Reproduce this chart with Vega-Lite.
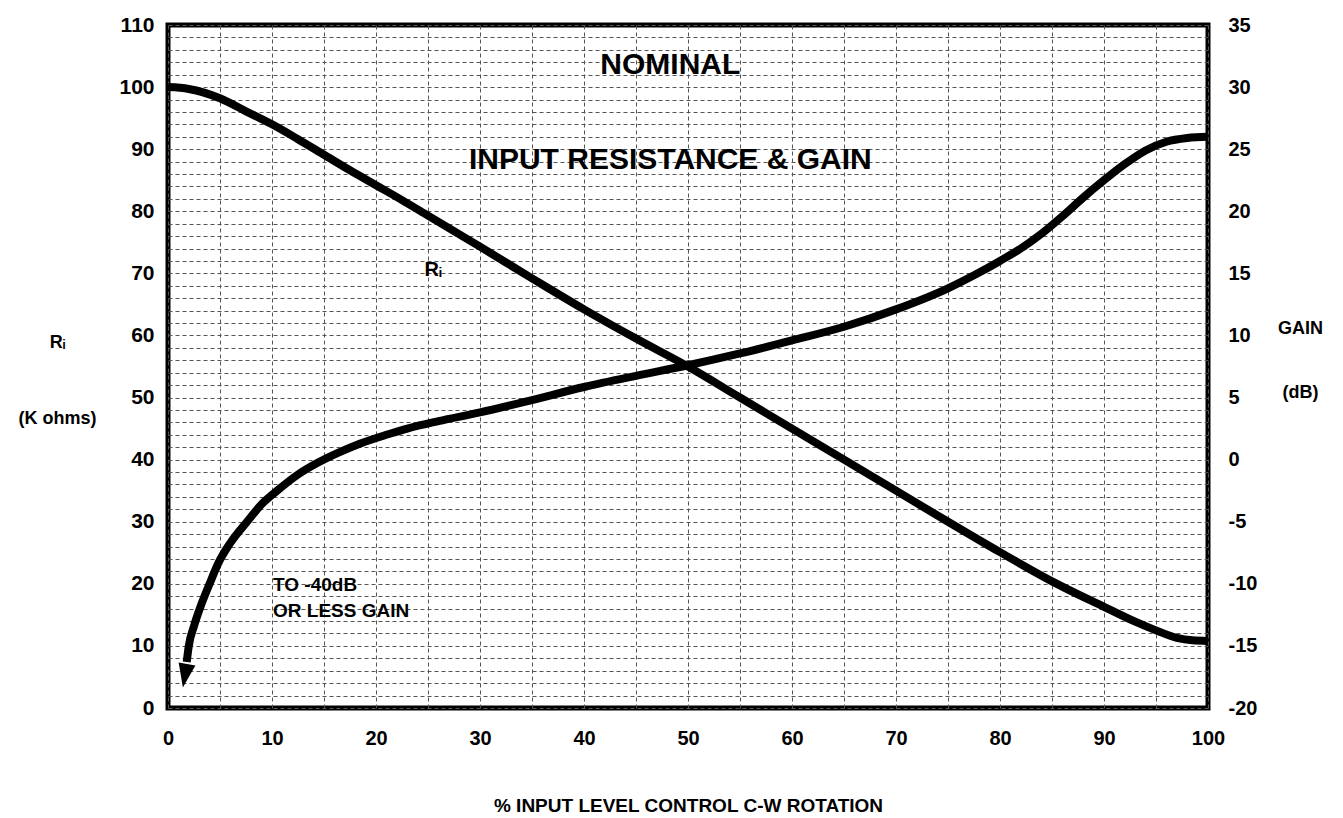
{
  "$schema": "https://vega.github.io/schema/vega-lite/v6.json",
  "width": 1040,
  "height": 683,
  "autosize": "none",
  "padding": {"left": 168, "top": 25, "right": 135, "bottom": 110},
  "background": "white",
  "config": {
    "view": {"stroke": "black", "strokeWidth": 5},
    "font": "Liberation Sans",
    "axis": {
      "labelColor": "black",
      "titleColor": "black",
      "labelFontWeight": "bold",
      "titleFontWeight": "bold",
      "labelOverlap": false,
      "labelFlush": false,
      "ticks": false,
      "domain": false,
      "tickCount": 200,
      "format": "d",
      "gridColor": "#555555",
      "gridDash": [4, 3],
      "gridWidth": 1,
      "gridOpacity": 1
    }
  },
  "resolve": {"scale": {"y": "independent"}},
  "layer": [
    {
      "layer": [
        {
          "data": {"values": [
            {"pct": 0, "ri": 100}, {"pct": 2, "ri": 99.7}, {"pct": 5, "ri": 98.2}, {"pct": 7.5, "ri": 96.1},
            {"pct": 10, "ri": 94}, {"pct": 12.5, "ri": 91.6}, {"pct": 15, "ri": 89.1}, {"pct": 17.5, "ri": 86.6},
            {"pct": 20, "ri": 84.2}, {"pct": 22.5, "ri": 81.8}, {"pct": 25, "ri": 79.3}, {"pct": 27.5, "ri": 76.8},
            {"pct": 30, "ri": 74.3}, {"pct": 35, "ri": 69.2}, {"pct": 40, "ri": 64.2}, {"pct": 45, "ri": 59.5},
            {"pct": 50, "ri": 55}, {"pct": 55, "ri": 50}, {"pct": 60, "ri": 45}, {"pct": 65, "ri": 40},
            {"pct": 70, "ri": 35}, {"pct": 75, "ri": 30}, {"pct": 80, "ri": 25.1}, {"pct": 85, "ri": 20.4},
            {"pct": 90, "ri": 16.3}, {"pct": 93, "ri": 13.9}, {"pct": 95, "ri": 12.5}, {"pct": 97, "ri": 11.3},
            {"pct": 98.5, "ri": 10.9}, {"pct": 100, "ri": 10.8}
          ]},
          "mark": {"type": "line", "stroke": "black", "strokeWidth": 8, "interpolate": "monotone"},
          "encoding": {
            "x": {
              "field": "pct", "type": "quantitative",
              "scale": {"domain": [0, 100], "nice": false},
              "axis": {
                "values": [0, 5, 10, 15, 20, 25, 30, 35, 40, 45, 50, 55, 60, 65, 70, 75, 80, 85, 90, 95, 100],
                "labelExpr": "datum.value % 10 === 0 ? datum.label : ''",
                "grid": true,
                "labelFontSize": 20,
                "labelPadding": 20,
                "title": "% INPUT LEVEL CONTROL C-W ROTATION",
                "titleFontSize": 19,
                "titleY": 97,
                "titleBaseline": "middle"
              }
            },
            "y": {
              "field": "ri", "type": "quantitative",
              "scale": {"domain": [0, 110], "nice": false},
              "axis": {
                "values": [0, 2, 4, 6, 8, 10, 12, 14, 16, 18, 20, 22, 24, 26, 28, 30, 32, 34, 36, 38, 40, 42, 44, 46, 48, 50, 52, 54, 56, 58, 60, 62, 64, 66, 68, 70, 72, 74, 76, 78, 80, 82, 84, 86, 88, 90, 92, 94, 96, 98, 100, 102, 104, 106, 108, 110],
                "labelExpr": "datum.value % 10 === 0 ? datum.label : ''",
                "grid": true,
                "labelFontSize": 21,
                "labelPadding": 14,
                "title": ["Rᵢ", "(K ohms)"],
                "titleFontSize": 18,
                "titleAngle": 0,
                "titleAlign": "center",
                "titleBaseline": "middle",
                "titleLineHeight": 76,
                "titleX": -111,
                "titleY": 317
              }
            }
          }
        },
        {
          "data": {"values": [
            {"pct": 48.3, "ri": 103.5, "label": "NOMINAL"},
            {"pct": 48.3, "ri": 88.2, "label": "INPUT RESISTANCE & GAIN"}
          ]},
          "mark": {"type": "text", "fontSize": 30, "fontWeight": "bold", "align": "center", "baseline": "middle", "color": "black"},
          "encoding": {
            "x": {"field": "pct", "type": "quantitative"},
            "y": {"field": "ri", "type": "quantitative"},
            "text": {"field": "label"}
          }
        },
        {
          "data": {"values": [
            {"pct": 25.5, "ri": 70.5, "label": "Rᵢ"}
          ]},
          "mark": {"type": "text", "fontSize": 20, "fontWeight": "bold", "align": "center", "baseline": "middle", "color": "black"},
          "encoding": {
            "x": {"field": "pct", "type": "quantitative"},
            "y": {"field": "ri", "type": "quantitative"},
            "text": {"field": "label"}
          }
        },
        {
          "data": {"values": [
            {"pct": 10.1, "ri": 19.8, "label": "TO -40dB"},
            {"pct": 10.1, "ri": 15.6, "label": "OR LESS GAIN"}
          ]},
          "mark": {"type": "text", "fontSize": 19, "fontWeight": "bold", "align": "left", "baseline": "middle", "color": "black"},
          "encoding": {
            "x": {"field": "pct", "type": "quantitative"},
            "y": {"field": "ri", "type": "quantitative"},
            "text": {"field": "label"}
          }
        }
      ]
    },
    {
      "layer": [
        {
          "data": {"values": [
            {"pct": 1.8, "gain": -16.3}, {"pct": 2.0, "gain": -15}, {"pct": 2.5, "gain": -13.4}, {"pct": 3.1, "gain": -11.9},
            {"pct": 4, "gain": -10}, {"pct": 4.8, "gain": -8.4}, {"pct": 6, "gain": -6.7}, {"pct": 7.6, "gain": -5.0},
            {"pct": 9, "gain": -3.6}, {"pct": 10.5, "gain": -2.5}, {"pct": 12.5, "gain": -1.2}, {"pct": 14.3, "gain": -0.3},
            {"pct": 16.5, "gain": 0.6}, {"pct": 18.5, "gain": 1.3}, {"pct": 21, "gain": 2.0}, {"pct": 23, "gain": 2.5},
            {"pct": 26, "gain": 3.1}, {"pct": 30, "gain": 3.8}, {"pct": 35, "gain": 4.8}, {"pct": 40, "gain": 5.85},
            {"pct": 45, "gain": 6.75}, {"pct": 50, "gain": 7.6}, {"pct": 55, "gain": 8.55}, {"pct": 60, "gain": 9.6},
            {"pct": 65, "gain": 10.7}, {"pct": 70, "gain": 12.1}, {"pct": 75, "gain": 13.8}, {"pct": 77.5, "gain": 14.85},
            {"pct": 80, "gain": 16.0}, {"pct": 82, "gain": 17.0}, {"pct": 84, "gain": 18.2}, {"pct": 86, "gain": 19.6},
            {"pct": 88, "gain": 21.1}, {"pct": 90, "gain": 22.5}, {"pct": 92, "gain": 23.8}, {"pct": 94, "gain": 24.9},
            {"pct": 96, "gain": 25.6}, {"pct": 98, "gain": 25.9}, {"pct": 100, "gain": 26.0}
          ]},
          "mark": {"type": "line", "stroke": "black", "strokeWidth": 8, "interpolate": "monotone"},
          "encoding": {
            "x": {"field": "pct", "type": "quantitative"},
            "y": {
              "field": "gain", "type": "quantitative",
              "scale": {"domain": [-20, 35], "nice": false},
              "axis": {
                "orient": "right",
                "values": [-20, -15, -10, -5, 0, 5, 10, 15, 20, 25, 30, 35],
                "labelExpr": "replace(datum.label, '−', '-')",
                "grid": false,
                "labelFontSize": 20,
                "labelPadding": 20,
                "title": ["GAIN", "(dB)"],
                "titleFontSize": 18,
                "titleAngle": 0,
                "titleAlign": "center",
                "titleBaseline": "middle",
                "titleLineHeight": 64,
                "titleX": 92,
                "titleY": 303
              }
            }
          }
        },
        {
          "data": {"values": [{"pct": 1.63, "gain": -17.4}]},
          "mark": {"type": "point", "shape": "M-1,-1.4L0,1.4L1,-1.4Z", "size": 289, "filled": true, "color": "black", "opacity": 1, "angle": 10},
          "encoding": {
            "x": {"field": "pct", "type": "quantitative"},
            "y": {"field": "gain", "type": "quantitative"}
          }
        }
      ]
    }
  ]
}
